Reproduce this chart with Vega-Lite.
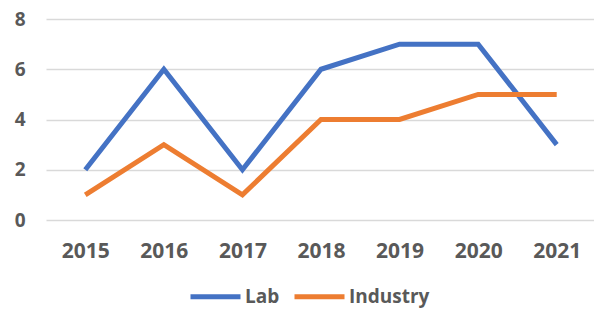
{
  "$schema": "https://vega.github.io/schema/vega-lite/v6.json",
  "width": 550,
  "height": 201,
  "autosize": "none",
  "padding": {"left": 46, "top": 19, "right": 0, "bottom": 89},
  "background": "white",
  "data": {"values": [
    {"year": "2015", "series": "Lab", "value": 2},
    {"year": "2016", "series": "Lab", "value": 6},
    {"year": "2017", "series": "Lab", "value": 2},
    {"year": "2018", "series": "Lab", "value": 6},
    {"year": "2019", "series": "Lab", "value": 7},
    {"year": "2020", "series": "Lab", "value": 7},
    {"year": "2021", "series": "Lab", "value": 3},
    {"year": "2015", "series": "Industry", "value": 1},
    {"year": "2016", "series": "Industry", "value": 3},
    {"year": "2017", "series": "Industry", "value": 1},
    {"year": "2018", "series": "Industry", "value": 4},
    {"year": "2019", "series": "Industry", "value": 4},
    {"year": "2020", "series": "Industry", "value": 5},
    {"year": "2021", "series": "Industry", "value": 5}
  ]},
  "mark": {"type": "line", "strokeWidth": 5, "strokeJoin": "miter", "strokeCap": "butt"},
  "encoding": {
    "x": {
      "field": "year", "type": "ordinal", "title": null,
      "scale": {"type": "point", "padding": 0.5},
      "axis": {"labelAngle": 0, "domain": false, "ticks": false, "labelPadding": 20, "labelFont": "Open Sans", "labelFontWeight": "bold", "labelFontSize": 21, "labelColor": "#595959", "grid": false}
    },
    "y": {
      "field": "value", "type": "quantitative", "title": null,
      "scale": {"domain": [0, 8]},
      "axis": {"values": [0, 2, 4, 6, 8], "domain": false, "ticks": false, "labelPadding": 21, "labelFont": "Open Sans", "labelFontWeight": "bold", "labelFontSize": 19, "labelColor": "#595959", "gridColor": "#d9d9d9", "gridWidth": 1.5}
    },
    "color": {
      "field": "series", "type": "nominal", "title": null,
      "scale": {"domain": ["Lab", "Industry"], "range": ["#4472C4", "#ED7D31"]},
      "legend": {"orient": "none", "direction": "horizontal", "legendX": 142, "legendY": 250, "symbolType": "stroke", "symbolSize": 2500, "symbolStrokeWidth": 5, "labelFont": "Open Sans", "labelFontWeight": "bold", "labelFontSize": 19, "labelColor": "#595959", "labelOffset": 2, "columnPadding": 4}
    }
  },
  "config": {"view": {"stroke": null}}
}
